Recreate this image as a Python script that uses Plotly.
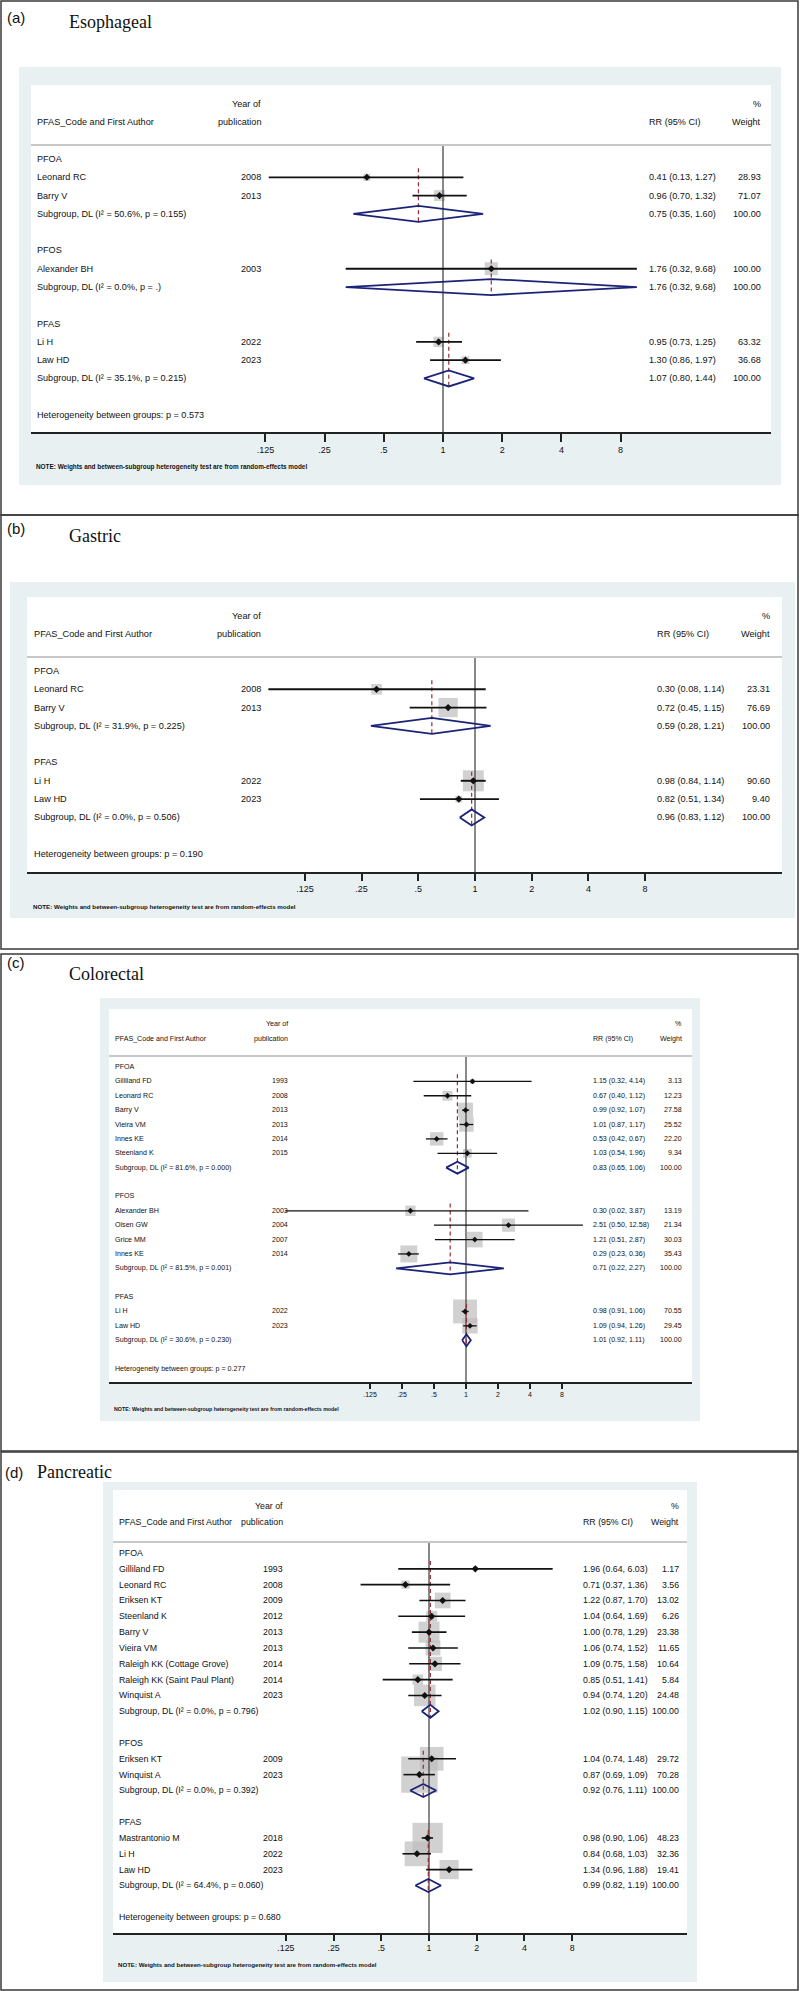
import math
import plotly.graph_objects as go

W, H = 800, 1991

TICK_VALS = [0.125, 0.25, 0.5, 1, 2, 4, 8]
TICK_TEXT = [".125", ".25", ".5", "1", "2", "4", "8"]
NOTE = "NOTE: Weights and between-subgroup heterogeneity test are from random-effects model"

# ---------------- (a) Esophageal ----------------
A_GROUPS = ["PFOA", "PFOS", "PFAS"]
A_AUTH = ["Leonard RC", "Barry V", "Alexander BH", "Li H", "Law HD"]
A_YEAR = ["2008", "2013", "2003", "2022", "2023"]
A_GRP = [0, 0, 1, 2, 2]
A_RR = [0.41, 0.96, 1.76, 0.95, 1.30]
A_LO = [0.13, 0.70, 0.32, 0.73, 0.86]
A_HI = [1.27, 1.32, 9.68, 1.25, 1.97]
A_WT = [28.93, 71.07, 100.00, 63.32, 36.68]
A_SUB_RR = [0.75, 1.76, 1.07]
A_SUB_LO = [0.35, 0.32, 0.80]
A_SUB_HI = [1.60, 9.68, 1.44]
A_SUB_I2 = ["50.6", "0.0", "35.1"]
A_SUB_P = ["0.155", ".", "0.215"]
A_HET_P = "0.573"

# ---------------- (b) Gastric ----------------
B_GROUPS = ["PFOA", "PFAS"]
B_AUTH = ["Leonard RC", "Barry V", "Li H", "Law HD"]
B_YEAR = ["2008", "2013", "2022", "2023"]
B_GRP = [0, 0, 1, 1]
B_RR = [0.30, 0.72, 0.98, 0.82]
B_LO = [0.08, 0.45, 0.84, 0.51]
B_HI = [1.14, 1.15, 1.14, 1.34]
B_WT = [23.31, 76.69, 90.60, 9.40]
B_SUB_RR = [0.59, 0.96]
B_SUB_LO = [0.28, 0.83]
B_SUB_HI = [1.21, 1.12]
B_SUB_I2 = ["31.9", "0.0"]
B_SUB_P = ["0.225", "0.506"]
B_HET_P = "0.190"

# ---------------- (c) Colorectal ----------------
C_GROUPS = ["PFOA", "PFOS", "PFAS"]
C_AUTH = ["Gilliland FD", "Leonard RC", "Barry V", "Vieira VM", "Innes KE", "Steenland K",
          "Alexander BH", "Olsen GW", "Grice MM", "Innes KE", "Li H", "Law HD"]
C_YEAR = ["1993", "2008", "2013", "2013", "2014", "2015",
          "2003", "2004", "2007", "2014", "2022", "2023"]
C_GRP = [0, 0, 0, 0, 0, 0, 1, 1, 1, 1, 2, 2]
C_RR = [1.15, 0.67, 0.99, 1.01, 0.53, 1.03, 0.30, 2.51, 1.21, 0.29, 0.98, 1.09]
C_LO = [0.32, 0.40, 0.92, 0.87, 0.42, 0.54, 0.02, 0.50, 0.51, 0.23, 0.91, 0.94]
C_HI = [4.14, 1.12, 1.07, 1.17, 0.67, 1.96, 3.87, 12.58, 2.87, 0.36, 1.06, 1.26]
C_WT = [3.13, 12.23, 27.58, 25.52, 22.20, 9.34, 13.19, 21.34, 30.03, 35.43, 70.55, 29.45]
C_SUB_RR = [0.83, 0.71, 1.01]
C_SUB_LO = [0.65, 0.22, 0.92]
C_SUB_HI = [1.06, 2.27, 1.11]
C_SUB_I2 = ["81.6", "81.5", "30.6"]
C_SUB_P = ["0.000", "0.001", "0.230"]
C_HET_P = "0.277"

# ---------------- (d) Pancreatic ----------------
D_GROUPS = ["PFOA", "PFOS", "PFAS"]
D_AUTH = ["Gilliland FD", "Leonard RC", "Eriksen KT", "Steenland K", "Barry V", "Vieira VM",
          "Raleigh KK (Cottage Grove)", "Raleigh KK (Saint Paul Plant)", "Winquist A",
          "Eriksen KT", "Winquist A", "Mastrantonio M", "Li H", "Law HD"]
D_YEAR = ["1993", "2008", "2009", "2012", "2013", "2013", "2014", "2014", "2023",
          "2009", "2023", "2018", "2022", "2023"]
D_GRP = [0, 0, 0, 0, 0, 0, 0, 0, 0, 1, 1, 2, 2, 2]
D_RR = [1.96, 0.71, 1.22, 1.04, 1.00, 1.06, 1.09, 0.85, 0.94, 1.04, 0.87, 0.98, 0.84, 1.34]
D_LO = [0.64, 0.37, 0.87, 0.64, 0.78, 0.74, 0.75, 0.51, 0.74, 0.74, 0.69, 0.90, 0.68, 0.96]
D_HI = [6.03, 1.36, 1.70, 1.69, 1.29, 1.52, 1.58, 1.41, 1.20, 1.48, 1.09, 1.06, 1.03, 1.88]
D_WT = [1.17, 3.56, 13.02, 6.26, 23.38, 11.65, 10.64, 5.84, 24.48, 29.72, 70.28, 48.23, 32.36, 19.41]
D_SUB_RR = [1.02, 0.92, 0.99]
D_SUB_LO = [0.90, 0.76, 0.82]
D_SUB_HI = [1.15, 1.11, 1.19]
D_SUB_I2 = ["0.0", "0.0", "64.4"]
D_SUB_P = ["0.796", "0.392", "0.060"]
D_HET_P = "0.680"

# ---------------- layout (pixel positions / styles) ----------------
PANELS = [
    dict(label="(a)", title="Esophageal", frame=(1, 1, 798, 515), label_xy=(5, 17), title_xy=(67, 22),
         gray=(19, 67, 781, 485), white=(31, 85, 771, 432), hdr=(104, 122), sep=145,
         row0=159, dy=18.29, x_one=443, ppd=59.2, author_x=35, year_r=263, rr_x=647, wt_r=763,
         fs=9.1, note_fs=6.4, tick_fs=9, ticklen=8, note_y=467, box_k=1.3, dhalf=8, lw=1.8, pt=5.5,
         data=(A_GROUPS, A_AUTH, A_YEAR, A_GRP, A_RR, A_LO, A_HI, A_WT,
               A_SUB_RR, A_SUB_LO, A_SUB_HI, A_SUB_I2, A_SUB_P, A_HET_P)),
    dict(label="(b)", title="Gastric", frame=(1, 515, 798, 949), label_xy=(5, 528), title_xy=(67, 536),
         gray=(10, 582, 795, 918), white=(27, 597, 782, 872), hdr=(616, 634), sep=657,
         row0=671, dy=18.3, x_one=475, ppd=56.7, author_x=32, year_r=263, rr_x=655, wt_r=772,
         fs=9.2, note_fs=6.2, tick_fs=9, ticklen=7, note_y=906, box_k=2.2, dhalf=8, lw=1.9, pt=5.5,
         data=(B_GROUPS, B_AUTH, B_YEAR, B_GRP, B_RR, B_LO, B_HI, B_WT,
               B_SUB_RR, B_SUB_LO, B_SUB_HI, B_SUB_I2, B_SUB_P, B_HET_P)),
    dict(label="(c)", title="Colorectal", frame=(1, 954, 798, 1451), label_xy=(5, 963), title_xy=(67, 974),
         gray=(100, 998, 700, 1421), white=(109, 1009, 692, 1382), hdr=(1024, 1039), sep=1056,
         row0=1067, dy=14.38, x_one=466, ppd=32.0, author_x=113, year_r=290, rr_x=591, wt_r=684,
         fs=7.1, note_fs=5.3, tick_fs=7, ticklen=5, note_y=1409, box_k=2.85, dhalf=6, lw=1.3, pt=4.5,
         data=(C_GROUPS, C_AUTH, C_YEAR, C_GRP, C_RR, C_LO, C_HI, C_WT,
               C_SUB_RR, C_SUB_LO, C_SUB_HI, C_SUB_I2, C_SUB_P, C_HET_P)),
    dict(label="(d)", title="Pancreatic", frame=(1, 1452, 798, 1990), label_xy=(3, 1472), title_xy=(35, 1472),
         gray=(103, 1482, 697, 1982), white=(113, 1490, 687, 1933), hdr=(1506, 1522), sep=1542,
         row0=1553, dy=15.83, x_one=429, ppd=47.7, author_x=117, year_r=285, rr_x=581, wt_r=681,
         fs=8.8, note_fs=6.1, tick_fs=8.8, ticklen=6, note_y=1964, box_k=4.35, dhalf=6.5, lw=1.6, pt=5.5,
         data=(D_GROUPS, D_AUTH, D_YEAR, D_GRP, D_RR, D_LO, D_HI, D_WT,
               D_SUB_RR, D_SUB_LO, D_SUB_HI, D_SUB_I2, D_SUB_P, D_HET_P)),
]

SANS = "Liberation Sans, Arial, sans-serif"
SERIF = "Liberation Serif, Times New Roman, serif"
BOXCOL = "#BEBEBE"
NAVY = "#1B2378"
DASHCOL = "#9E2A2F"
NULLCOL = "#4A4A4A"
BGCOL = "#E9F0F2"


def px(x):
    return x / W


def py(y):
    return 1 - y / H


fig = go.Figure()
shapes, annots = [], []
axes = {}

for i, P in enumerate(PANELS, start=1):
    (groups, auth, year, grp, rr, lo, hi, wt,
     s_rr, s_lo, s_hi, s_i2, s_p, het_p) = P["data"]
    sfx = "" if i == 1 else str(i)
    xa, ya = "x" + sfx, "y" + sfx
    fs = P["fs"]
    tfont = dict(family=SANS, size=fs, color="#111")

    # frames and backgrounds
    fx0, fy0, fx1, fy1 = P["frame"]
    shapes.append(dict(type="rect", xref="paper", yref="paper", x0=px(fx0), x1=px(fx1),
                       y0=py(fy0), y1=py(fy1), line=dict(color="#3A3A3A", width=1.5), layer="below"))
    gx0, gy0, gx1, gy1 = P["gray"]
    shapes.append(dict(type="rect", xref="paper", yref="paper", x0=px(gx0), x1=px(gx1),
                       y0=py(gy0), y1=py(gy1), line=dict(width=0), fillcolor=BGCOL, layer="below"))
    wx0, wy0, wx1, axy = P["white"]
    shapes.append(dict(type="rect", xref="paper", yref="paper", x0=px(wx0), x1=px(wx1),
                       y0=py(wy0), y1=py(axy), line=dict(width=0), fillcolor="white", layer="below"))
    shapes.append(dict(type="line", xref="paper", yref="paper", x0=px(wx0), x1=px(wx1),
                       y0=py(P["sep"]), y1=py(P["sep"]), line=dict(color="#C8C8C8", width=2)))

    # labels
    lx, ly = P["label_xy"]
    annots.append(dict(text=P["label"], xref="paper", yref="paper", x=px(lx), y=py(ly),
                       xanchor="left", yanchor="middle", showarrow=False,
                       font=dict(family=SANS, size=15, color="#111")))
    tx, ty = P["title_xy"]
    annots.append(dict(text=P["title"], xref="paper", yref="paper", x=px(tx), y=py(ty),
                       xanchor="left", yanchor="middle", showarrow=False,
                       font=dict(family=SERIF, size=18, color="#111")))

    # header
    h1, h2 = P["hdr"]
    for txt, xx, yy, anc in [("Year of", P["year_r"], h1, "right"),
                             ("publication", P["year_r"], h2, "right"),
                             ("PFAS_Code and First Author", P["author_x"], h2, "left"),
                             ("RR (95% CI)", P["rr_x"], h2, "left"),
                             ("%", P["wt_r"], h1, "right"),
                             ("Weight", P["wt_r"], h2, "right")]:
        annots.append(dict(text=txt, xref="paper", yref="paper", x=px(xx), y=py(yy),
                           xanchor=anc, yanchor="middle", showarrow=False, font=tfont))
    annots.append(dict(text="<b>" + NOTE + "</b>", xref="paper", yref="paper",
                       x=px(P["author_x"] - 1), y=py(P["note_y"]), xanchor="left", yanchor="middle",
                       showarrow=False, font=dict(family=SANS, size=P["note_fs"], color="#111")))

    # row layout
    r = 0
    study_row = [0] * len(auth)
    grp_row, first_row, sub_row = [], [], []
    for g in range(len(groups)):
        grp_row.append(r)
        r += 1
        first_row.append(r)
        for k in range(len(auth)):
            if grp[k] == g:
                study_row[k] = r
                r += 1
        sub_row.append(r)
        r += 2
    het_row = r

    dy = P["dy"]
    r_top = (P["sep"] - P["row0"]) / dy
    r_bot = (axy - P["row0"]) / dy
    L2 = math.log10(2)
    xr = [L2 * (wx0 - P["x_one"]) / P["ppd"], L2 * (wx1 - P["x_one"]) / P["ppd"]]

    axes["xaxis" + sfx] = dict(type="log", domain=[px(wx0), px(wx1)], range=xr, anchor=ya,
                               showgrid=False, zeroline=False, showline=True, linecolor="#222",
                               linewidth=1.5, ticks="outside", ticklen=P["ticklen"], tickwidth=1.5,
                               tickcolor="#222", tickvals=TICK_VALS, ticktext=TICK_TEXT,
                               tickfont=dict(family=SANS, size=P["tick_fs"], color="#111"),
                               fixedrange=True)
    axes["yaxis" + sfx] = dict(domain=[py(axy), py(P["sep"])], range=[r_bot, r_top], anchor=xa,
                               visible=False, showgrid=False, zeroline=False, fixedrange=True)

    # text columns
    for g in range(len(groups)):
        annots.append(dict(text=groups[g], xref="paper", yref=ya, x=px(P["author_x"]), y=grp_row[g],
                           xanchor="left", yanchor="middle", showarrow=False, font=tfont))
        annots.append(dict(text=f"Subgroup, DL (I\u00b2 = {s_i2[g]}%, p = {s_p[g]})",
                           xref="paper", yref=ya, x=px(P["author_x"]), y=sub_row[g],
                           xanchor="left", yanchor="middle", showarrow=False, font=tfont))
        annots.append(dict(text=f"{s_rr[g]:.2f} ({s_lo[g]:.2f}, {s_hi[g]:.2f})", xref="paper", yref=ya,
                           x=px(P["rr_x"]), y=sub_row[g], xanchor="left", yanchor="middle",
                           showarrow=False, font=tfont))
        annots.append(dict(text="100.00", xref="paper", yref=ya, x=px(P["wt_r"]), y=sub_row[g],
                           xanchor="right", yanchor="middle", showarrow=False, font=tfont))
    for k in range(len(auth)):
        rk = study_row[k]
        annots.append(dict(text=auth[k], xref="paper", yref=ya, x=px(P["author_x"]), y=rk,
                           xanchor="left", yanchor="middle", showarrow=False, font=tfont))
        annots.append(dict(text=year[k], xref="paper", yref=ya, x=px(P["year_r"]), y=rk,
                           xanchor="right", yanchor="middle", showarrow=False, font=tfont))
        annots.append(dict(text=f"{rr[k]:.2f} ({lo[k]:.2f}, {hi[k]:.2f})", xref="paper", yref=ya,
                           x=px(P["rr_x"]), y=rk, xanchor="left", yanchor="middle",
                           showarrow=False, font=tfont))
        annots.append(dict(text=f"{wt[k]:.2f}", xref="paper", yref=ya, x=px(P["wt_r"]), y=rk,
                           xanchor="right", yanchor="middle", showarrow=False, font=tfont))
    annots.append(dict(text=f"Heterogeneity between groups: p = {het_p}", xref="paper", yref=ya,
                       x=px(P["author_x"]), y=het_row, xanchor="left", yanchor="middle",
                       showarrow=False, font=tfont))

    # marks
    fig.add_trace(go.Scatter(x=rr, y=study_row, mode="markers", xaxis=xa, yaxis=ya, hoverinfo="skip",
                             marker=dict(symbol="square", color=BOXCOL,
                                         size=[P["box_k"] * math.sqrt(w) for w in wt],
                                         line=dict(width=0)), cliponaxis=False))
    fig.add_trace(go.Scatter(x=[1, 1], y=[r_top, r_bot], mode="lines", xaxis=xa, yaxis=ya,
                             hoverinfo="skip", line=dict(color=NULLCOL, width=1.3)))
    dh = P["dhalf"] / dy
    dx, dyy = [], []
    for g in range(len(groups)):
        dx += [s_rr[g], s_rr[g], None]
        dyy += [first_row[g] - 0.5, sub_row[g] + dh, None]
    fig.add_trace(go.Scatter(x=dx, y=dyy, mode="lines", xaxis=xa, yaxis=ya, hoverinfo="skip",
                             line=dict(color=DASHCOL, width=1.2, dash="4px,3px")))
    cx, cy = [], []
    for k in range(len(auth)):
        cx += [lo[k], hi[k], None]
        cy += [study_row[k], study_row[k], None]
    fig.add_trace(go.Scatter(x=cx, y=cy, mode="lines", xaxis=xa, yaxis=ya, hoverinfo="skip",
                             line=dict(color="#111", width=P["lw"]), cliponaxis=False))
    fig.add_trace(go.Scatter(x=rr, y=study_row, mode="markers", xaxis=xa, yaxis=ya, hoverinfo="skip",
                             marker=dict(symbol="diamond", color="#111", size=P["pt"],
                                         line=dict(width=0))))
    ddx, ddy = [], []
    for g in range(len(groups)):
        ddx += [s_lo[g], s_rr[g], s_hi[g], s_rr[g], s_lo[g], None]
        ddy += [sub_row[g], sub_row[g] - dh, sub_row[g], sub_row[g] + dh, sub_row[g], None]
    fig.add_trace(go.Scatter(x=ddx, y=ddy, mode="lines", xaxis=xa, yaxis=ya, hoverinfo="skip",
                             line=dict(color=NAVY, width=1.8)))

fig.update_layout(width=W, height=H, autosize=False, margin=dict(l=0, r=0, t=0, b=0),
                  paper_bgcolor="white", plot_bgcolor="rgba(0,0,0,0)", showlegend=False,
                  shapes=shapes, annotations=annots, **axes)

fig.write_html("out.html", config={"displayModeBar": False},
               post_script="document.body.style.margin='0';document.body.style.overflow='hidden';")
